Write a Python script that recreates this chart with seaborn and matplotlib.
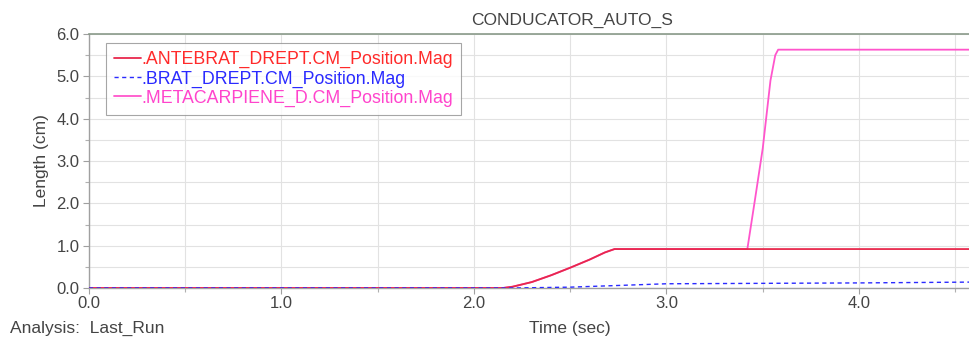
import matplotlib
matplotlib.use("Agg")
import matplotlib.pyplot as plt
import seaborn as sns
from matplotlib.ticker import MultipleLocator, FormatStrFormatter

# ---- data ----
t_antebrat = [0.0, 2.15, 2.20, 2.30, 2.40, 2.50, 2.60, 2.68, 2.73, 4.60]
v_antebrat = [0.0, 0.00, 0.03, 0.14, 0.30, 0.48, 0.67, 0.84, 0.92, 0.92]

t_brat = [0.0, 2.20, 2.50, 2.75, 3.00, 3.50, 4.00, 4.60]
v_brat = [0.0, 0.00, 0.02, 0.06, 0.10, 0.11, 0.12, 0.14]

t_meta = [0.0, 2.15, 2.20, 2.30, 2.40, 2.50, 2.60, 2.68, 2.73, 3.42, 3.46, 3.50, 3.54, 3.565, 3.58, 4.60]
v_meta = [0.0, 0.00, 0.03, 0.14, 0.30, 0.48, 0.67, 0.84, 0.92, 0.92, 2.10, 3.30, 4.90, 5.50, 5.63, 5.63]

labels = [".ANTEBRAT_DREPT.CM_Position.Mag",
          ".BRAT_DREPT.CM_Position.Mag",
          ".METACARPIENE_D.CM_Position.Mag"]
title = "CONDUCATOR_AUTO_S"
xlabel = "Time (sec)"
ylabel = "Length (cm)"
footer = "Analysis:  Last_Run"

sns.set_theme(style="white")
plt.rcParams['font.family'] = ['Liberation Sans', 'DejaVu Sans']

fig = plt.figure(figsize=(9.7, 3.4), dpi=100)
ax = fig.add_axes([89/970, 1-288/340, 1-89/970, (288-34)/340])

colors = ['#e8284c', '#2a2aff', '#ff55cc']
text_colors = ['#ff2a2a', '#2a2aff', '#ff44cc']

sns.lineplot(x=t_meta, y=v_meta, ax=ax, color=colors[2], lw=1.3, label=labels[2], zorder=3)
sns.lineplot(x=t_antebrat, y=v_antebrat, ax=ax, color=colors[0], lw=1.3, label=labels[0], zorder=4)
sns.lineplot(x=t_brat, y=v_brat, ax=ax, color=colors[1], lw=1.0, ls=(0, (3, 2.5)), label=labels[1], zorder=5)

ax.set_xlim(0, (970-89)/192.5)
ax.set_ylim(0, 6.0)
ax.xaxis.set_major_locator(MultipleLocator(1.0))
ax.xaxis.set_minor_locator(MultipleLocator(0.5))
ax.yaxis.set_major_locator(MultipleLocator(1.0))
ax.yaxis.set_minor_locator(MultipleLocator(0.5))
ax.xaxis.set_major_formatter(FormatStrFormatter('%.1f'))
ax.yaxis.set_major_formatter(FormatStrFormatter('%.1f'))
ax.grid(True, which='both', color='#e2e2e2', lw=0.8)
ax.set_axisbelow(True)

for s in ['left', 'bottom']:
    ax.spines[s].set_color('#a0a0a0')
    ax.spines[s].set_linewidth(1.0)
ax.spines['top'].set_color('#8a9a8a')
ax.spines['top'].set_linewidth(1.2)
ax.spines['right'].set_visible(False)

ax.tick_params(axis='both', which='major', labelsize=12, colors='#a0a0a0',
               labelcolor='#444444', length=4, width=0.8, direction='out',
               left=True, bottom=True)
ax.tick_params(axis='both', which='minor', length=3, width=0.8, colors='#b0b0b0',
               direction='out', left=True, bottom=True)
ax.tick_params(axis='x', pad=2)
ax.tick_params(axis='y', pad=3)
ax.set_xlabel("")
ax.set_ylabel(ylabel, fontsize=12.5, color='#444444', labelpad=5)

# legend in the reference order
handles, labs = ax.get_legend_handles_labels()
order = [labs.index(l) for l in labels]
leg = ax.legend([handles[i] for i in order], [labs[i] for i in order],
                loc='upper left', bbox_to_anchor=(17/881, 1-9/254),
                prop={'size': 12.8}, frameon=True, fancybox=False, handlelength=1.5,
                handletextpad=0.05, labelspacing=0.12, borderpad=0.45,
                borderaxespad=0)
leg.get_frame().set_edgecolor('#909090')
leg.get_frame().set_linewidth(0.8)
for txt, c in zip(leg.get_texts(), text_colors):
    txt.set_color(c)

fig.text(572/970, 1-20/340, title, ha='center', va='center', fontsize=12.5, color='#444444')
fig.text(570/970, 1-329/340, xlabel, ha='center', va='center', fontsize=12.5, color='#444444')
fig.text(10/970, 1-328/340, footer, ha='left', va='center', fontsize=12.5, color='#444444')

fig.savefig("out.png", dpi=100)
